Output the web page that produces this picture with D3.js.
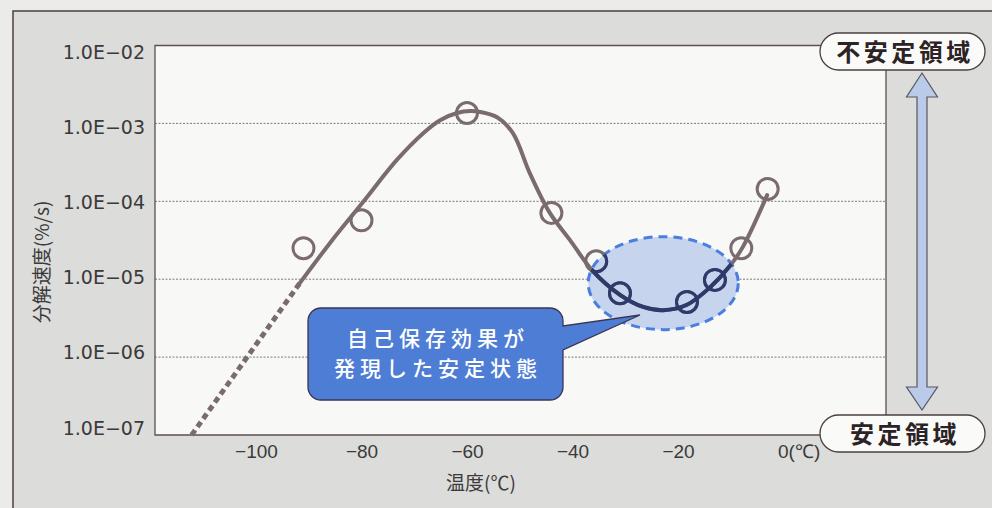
<!DOCTYPE html>
<html>
<head>
<meta charset="utf-8">
<script src="https://cdn.jsdelivr.net/npm/d3@7"></script>
<style>
  html, body { margin: 0; padding: 0; background: #ebebe9; }
  svg { display: block; }
</style>
</head>
<body>
<script>
// Axis ticks and labels
const xTicks = [-100, -80, -60, -40, -20, 0];
const xTickLabels = ["−100", "−80", "−60", "−40", "−20", "0(℃)"];
const yTicks = [1e-2, 1e-3, 1e-4, 1e-5, 1e-6, 1e-7];
const yTickLabels = ["1.0E−02", "1.0E−03", "1.0E−04", "1.0E−05", "1.0E−06", "1.0E−07"];

// Measured decomposition rates (%/s) at each temperature (℃)
const pointTemps = [-91, -80, -60, -44, -35.5, -31, -18.3, -13, -8, -3];
const pointRates = [2.5e-5, 5.7e-5, 1.36e-3, 7.1e-5, 1.7e-5, 6.6e-6, 5.1e-6, 9.8e-6, 2.5e-5, 1.44e-4];

// Fitted trend (solid part)
const curveTemps = [-91.7, -86.0, -79.7, -73.3, -68.3, -65.1, -61.9, -59.4, -57.5, -54.3, -51.3, -48.1,
                    -44.3, -40.5, -36.3, -31.0, -26.6, -22.8, -18.3, -13.9, -10.1, -7.7, -3.1];
const curveRates = [8.9e-6, 2.9e-5, 9.8e-5, 3.4e-4, 7.5e-4, 1.1e-3, 1.36e-3, 1.44e-3, 1.40e-3, 1.2e-3, 7.5e-4, 2.3e-4,
                    7.1e-5, 3.2e-5, 1.31e-5, 6.3e-6, 4.4e-6, 4.0e-6, 4.7e-6, 7.9e-6, 1.5e-5, 2.6e-5, 1.2e-4];

// Extrapolated trend (dashed part)
const extrapTemps = [-112.2, -91.7];
const extrapRates = [1.0e-7, 8.9e-6];

// Stable-region highlight (centre in data units)
const stableCenterTemp = -22.8;
const stableCenterRate = 8.9e-6;

const W = 992, H = 508;
const plot = { left: 155, right: 886, top: 45.5, bottom: 435 };

const brown = "#7a6b6e";
const navy = "#2e3a6b";
const ink = "#3a3a3a";
const cjk = "'Noto Sans CJK JP', 'Noto Sans', sans-serif";

const svg = d3.select("body").append("svg").attr("width", W).attr("height", H);

// Page + panel
svg.append("rect").attr("width", W).attr("height", H).attr("fill", "#ebebe9");
svg.append("rect").attr("x", 13).attr("y", 11).attr("width", W + 20).attr("height", H + 20)
  .attr("fill", "#dcdcda").attr("stroke", "#4b3f3f").attr("stroke-width", 1.5);

// Scales
const x = d3.scaleLinear().domain([-100, 0]).range([256, 783.5]);
const y = d3.scaleLog().domain([1e-7, 1e-2]).range([plot.bottom, plot.top]);
// the printed tick labels sit on a slightly tighter spacing than the gridlines
const yLabel = d3.scaleLog().domain([1e-7, 1e-2]).range([428, 52]);

// Plot background
svg.append("rect").attr("x", plot.left).attr("y", plot.top)
  .attr("width", plot.right - plot.left).attr("height", plot.bottom - plot.top)
  .attr("fill", "#f8f8f6");

// Gridlines
svg.append("g").selectAll("line").data(yTicks.filter(v => v < 1e-2 && v > 1e-7)).join("line")
  .attr("x1", plot.left).attr("x2", plot.right)
  .attr("y1", d => y(d)).attr("y2", d => y(d))
  .attr("stroke", "#7c7c7c").attr("stroke-width", 1).attr("stroke-dasharray", "2,1.5");

// Frame
svg.append("path")
  .attr("d", `M${plot.left},${plot.top}H${plot.right}V${plot.bottom}H${plot.left}Z`)
  .attr("fill", "none").attr("stroke", "#5b5050").attr("stroke-width", 1.3);

// Y axis
const yAxis = svg.append("g").attr("transform", `translate(${plot.left},0)`)
  .call(d3.axisLeft(yLabel).tickValues(yTicks).tickSize(0).tickPadding(10)
    .tickFormat((d, i) => yTickLabels[i]));
yAxis.select(".domain").remove();
yAxis.selectAll("text").attr("fill", ink)
  .style("font-family", "'DejaVu Sans', sans-serif").style("font-size", "19px");

// X axis
const xAxis = svg.append("g").attr("transform", `translate(0,${plot.bottom})`)
  .call(d3.axisBottom(x).tickValues(xTicks).tickSize(0).tickPadding(10)
    .tickFormat((d, i) => xTickLabels[i]));
xAxis.select(".domain").remove();
xAxis.selectAll("text").attr("fill", ink)
  .style("font-family", "'Liberation Sans', sans-serif").style("font-size", "19px");
xAxis.selectAll(".tick").filter(d => d === 0).select("text")
  .attr("text-anchor", "start").attr("x", -6);

// Axis titles
svg.append("text").attr("transform", "translate(42,262) rotate(-90)")
  .attr("text-anchor", "middle").attr("dy", "0.35em")
  .attr("fill", ink).style("font-family", cjk).style("font-size", "19px")
  .text("分解速度(%/s)");
svg.append("text").attr("x", 481).attr("y", 483).attr("dy", "0.35em")
  .attr("text-anchor", "middle").attr("fill", ink)
  .style("font-family", cjk).style("font-size", "19px")
  .text("温度(℃)");

// Stable-region ellipse
const ecx = x(stableCenterTemp), ecy = y(stableCenterRate), erx = 75, ery = 46.5;
svg.append("defs").append("clipPath").attr("id", "stableClip")
  .append("ellipse").attr("cx", ecx).attr("cy", ecy).attr("rx", erx).attr("ry", ery);
svg.append("ellipse").attr("cx", ecx).attr("cy", ecy).attr("rx", erx).attr("ry", ery)
  .attr("fill", "#c7d4ee").attr("stroke", "#4a7edf").attr("stroke-width", 3)
  .attr("stroke-dasharray", "9,6");

// Lines
const line = d3.line().x(d => x(d[0])).y(d => y(d[1])).curve(d3.curveCatmullRom.alpha(0.5));
const curveData = curveTemps.map((t, i) => [t, curveRates[i]]);
const extrapData = extrapTemps.map((t, i) => [t, extrapRates[i]]);
const pointData = pointTemps.map((t, i) => [t, pointRates[i]]);

svg.append("path").attr("d", line(extrapData))
  .attr("fill", "none").attr("stroke", brown).attr("stroke-width", 5)
  .attr("stroke-dasharray", "6,4");

function drawSeries(g, color) {
  g.append("path").attr("d", line(curveData))
    .attr("fill", "none").attr("stroke", color).attr("stroke-width", 4)
    .attr("stroke-linecap", "round");
  g.selectAll("circle").data(pointData).join("circle")
    .attr("cx", d => x(d[0])).attr("cy", d => y(d[1])).attr("r", 10.5)
    .attr("fill", "none").attr("stroke", color).attr("stroke-width", 3);
}
drawSeries(svg.append("g"), brown);
drawSeries(svg.append("g").attr("clip-path", "url(#stableClip)"), navy);

// Callout
const bx0 = 308, bx1 = 563, by0 = 308, by1 = 400, br = 13;
const tipX = 640, tipY = 315;
svg.append("path")
  .attr("d", `M${bx0 + br},${by0}H${bx1 - br}A${br},${br} 0 0 1 ${bx1},${by0 + br}V326L${tipX},${tipY}L${bx1},350` +
             `V${by1 - br}A${br},${br} 0 0 1 ${bx1 - br},${by1}H${bx0 + br}A${br},${br} 0 0 1 ${bx0},${by1 - br}` +
             `V${by0 + br}A${br},${br} 0 0 1 ${bx0 + br},${by0}Z`)
  .attr("fill", "#4e7dd5").attr("stroke", "#3a3550").attr("stroke-width", 1.3);
const calloutLines = ["自己保存効果が", "発現した安定状態"];
svg.append("g").selectAll("text").data(calloutLines).join("text")
  .attr("x", 438).attr("y", (d, i) => 338 + i * 30.8).attr("dy", "0.36em")
  .attr("text-anchor", "middle").attr("fill", "#ffffff")
  .style("font-family", cjk).style("font-size", "21px").style("font-weight", 500)
  .style("letter-spacing", "5px")
  .text(d => d);

// Region arrow
svg.append("path")
  .attr("d", "M922,73L937.5,97L927,97V387L937.5,387L922,410L906.5,387L917,387V97L906.5,97Z")
  .attr("fill", "#b9cbe9").attr("stroke", "#5a5560").attr("stroke-width", 1.2);

// Region labels
const regions = [{ label: "不安定領域", y: 33 }, { label: "安定領域", y: 415 }];
const pills = svg.append("g").selectAll("g").data(regions).join("g");
pills.append("rect").attr("x", 820).attr("y", d => d.y).attr("width", 165).attr("height", 37)
  .attr("rx", 18.5).attr("fill", "#fafaf8").attr("stroke", "#4b4040").attr("stroke-width", 1.3);
pills.append("text").attr("x", 905).attr("y", d => d.y + 19).attr("dy", "0.36em")
  .attr("text-anchor", "middle").attr("fill", "#2b2325")
  .style("font-family", cjk).style("font-size", "24px").style("font-weight", 700)
  .style("letter-spacing", "3.5px")
  .text(d => d.label);
</script>
</body>
</html>
